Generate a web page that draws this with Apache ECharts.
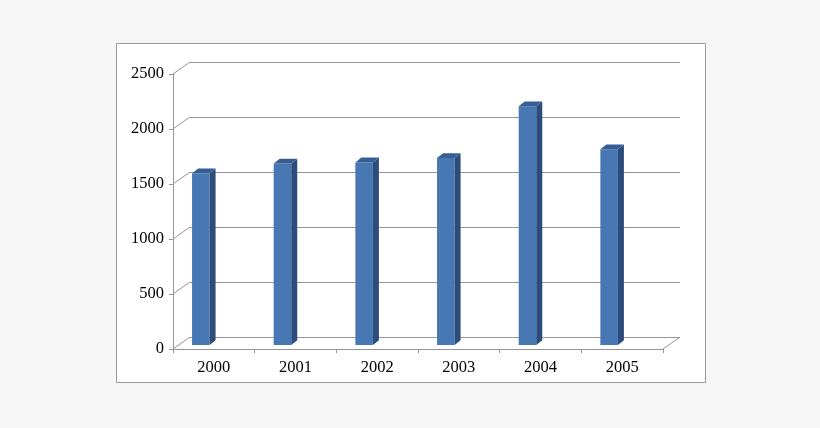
<!DOCTYPE html>
<html><head><meta charset="utf-8">
<script src="https://cdn.jsdelivr.net/npm/echarts@6/dist/echarts.min.js"></script>
<style>html,body{margin:0;padding:0;background:#f6f6f6}#c{width:820px;height:428px}</style>
</head><body><div id="c"></div>
<script>
const categories = ['2000', '2001', '2002', '2003', '2004', '2005'];
const values = [1560, 1650, 1660, 1700, 2170, 1780];
const yTicks = [0, 500, 1000, 1500, 2000, 2500];

const DX = 17, DY = 12;          // wall depth offset
const lineGray = '#959595';
const font = 'Liberation Serif';

const chart = echarts.init(document.getElementById('c'));
chart.setOption({
  backgroundColor: '#f6f6f6',
  animation: false,
  graphic: [{
    type: 'rect', z: -100, silent: true,
    shape: { x: 116.5, y: 43.5, width: 589, height: 339 },
    style: { fill: '#ffffff', stroke: '#9a9a9a', lineWidth: 1 }
  }],
  grid: [
    { left: 173, right: 157, top: 74, bottom: 79 },
    { left: 173 + DX, right: 157 - DX, top: 74 - DY, bottom: 79 + DY }
  ],
  xAxis: [
    {
      gridIndex: 0, type: 'category', data: categories, boundaryGap: true,
      axisLine: { lineStyle: { color: lineGray } },
      axisTick: { show: true, length: 4, alignWithLabel: false, lineStyle: { color: lineGray } },
      axisLabel: { color: '#000', fontFamily: font, fontSize: 16.5, margin: 10 }
    },
    { gridIndex: 1, type: 'category', data: categories, show: false }
  ],
  yAxis: [
    {
      gridIndex: 0, type: 'value', min: 0, max: 2500, interval: 500,
      axisLine: { show: true, lineStyle: { color: lineGray } },
      axisTick: { show: true, length: 4, lineStyle: { color: lineGray } },
      axisLabel: { color: '#000', fontFamily: font, fontSize: 16.5, margin: 9,
                   formatter: v => String(v) },
      splitLine: { show: false }
    },
    {
      gridIndex: 1, type: 'value', min: 0, max: 2500, interval: 500,
      axisLine: { show: false }, axisTick: { show: false }, axisLabel: { show: false },
      splitLine: { show: true, lineStyle: { color: lineGray, width: 1 } }
    }
  ],
  series: [
    {
      // diagonal connectors between front axis ticks and back wall gridlines
      type: 'custom', xAxisIndex: 0, yAxisIndex: 0, silent: true, z: 1,
      data: yTicks.map(v => [0, v]),
      renderItem(params, api) {
        const p = api.coord([api.value(0), api.value(1)]);
        const bw = api.size([1, 0])[0];
        const x = p[0] - bw / 2;
        return { type: 'line', shape: { x1: x, y1: p[1], x2: x + DX, y2: p[1] - DY },
                 style: { stroke: lineGray, lineWidth: 1 } };
      }
    },
    {
      // right floor edge
      type: 'custom', xAxisIndex: 0, yAxisIndex: 0, silent: true, z: 1,
      data: [[categories.length - 1, 0]],
      renderItem(params, api) {
        const p = api.coord([api.value(0), api.value(1)]);
        const bw = api.size([1, 0])[0];
        const x = p[0] + bw / 2;
        return { type: 'line', shape: { x1: x, y1: p[1], x2: x + DX, y2: p[1] - DY },
                 style: { stroke: lineGray, lineWidth: 1 } };
      }
    },
    {
      // 3D bars
      type: 'custom', xAxisIndex: 0, yAxisIndex: 0, z: 5,
      data: values.map((v, i) => [i, v]),
      renderItem(params, api) {
        const i = api.value(0), v = api.value(1);
        const base = api.coord([i, 0]);
        const top = api.coord([i, v]);
        const bw = api.size([1, 0])[0];
        const shift = 4;
        const xl = base[0] - 0.267 * bw;
        const w = 0.215 * bw;
        const xr = xl + w;
        const yb = base[1] - shift;
        const yt = top[1] - shift;
        const dx = 6, dy = 4.8;
        return {
          type: 'group',
          children: [
            { type: 'rect', shape: { x: xl, y: yt, width: w, height: yb - yt },
              style: { fill: '#4878b4' } },
            { type: 'polygon', shape: { points: [[xr, yt], [xr + dx, yt - dy], [xr + dx, yb - dy], [xr, yb]] },
              style: { fill: '#2c4d7c' } },
            { type: 'polygon', shape: { points: [[xl, yt], [xl + dx, yt - dy], [xr + dx, yt - dy], [xr, yt]] },
              style: { fill: '#375e94' } }
          ]
        };
      }
    }
  ]
});
</script>
</body></html>
